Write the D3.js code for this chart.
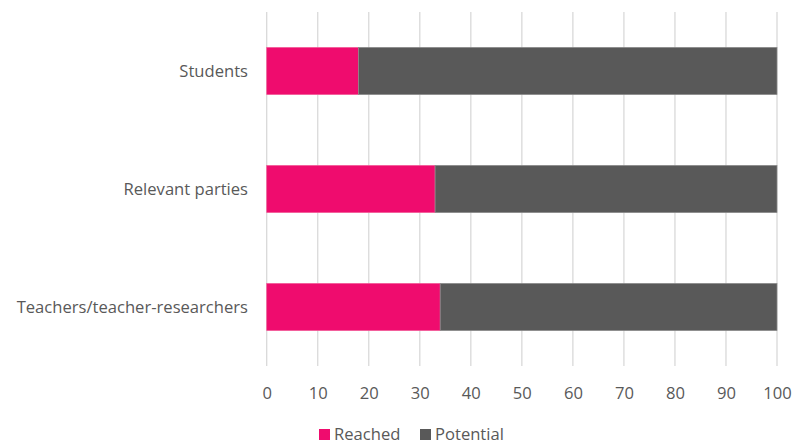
<!DOCTYPE html>
<html><head><meta charset="utf-8">
<script src="https://cdn.jsdelivr.net/npm/d3@7"></script>
<style>body{margin:0;background:#fff;} text{font-family:"Open Sans",sans-serif;}</style>
</head><body>
<svg id="c" width="804" height="441"></svg>
<script>
const categories = ["Students", "Relevant parties", "Teachers/teacher-researchers"];
const reached = [18, 33, 34];
const potential = [82, 67, 66];
const xTicks = [0,10,20,30,40,50,60,70,80,90,100];
const seriesNames = ["Reached", "Potential"];
const colors = ["#EF0C6E", "#595959"];

const svg = d3.select("#c");
const x = d3.scaleLinear().domain([0,100]).range([266.7, 777]);
const y = d3.scaleBand().domain(categories).range([12, 366]).paddingInner(0.6).paddingOuter(0.3);

// gridlines
svg.append("g").selectAll("line").data(xTicks).join("line")
  .attr("x1", d=>x(d)).attr("x2", d=>x(d)).attr("y1", 12).attr("y2", 366)
  .attr("stroke", "#d9d9d9").attr("stroke-width", 1.3);

const rows = categories.map((c,i)=>({c, r: reached[i], p: potential[i]}));
const g = svg.append("g");
g.selectAll("rect.r").data(rows).join("rect").attr("class","r")
  .attr("x", x(0)).attr("y", d=>y(d.c)).attr("width", d=>x(d.r)-x(0)).attr("height", y.bandwidth())
  .attr("fill", colors[0]).attr("stroke", "#f25c98").attr("stroke-width", 0.7);
g.selectAll("rect.p").data(rows).join("rect").attr("class","p")
  .attr("x", d=>x(d.r)).attr("y", d=>y(d.c)).attr("width", d=>x(d.r+d.p)-x(d.r)).attr("height", y.bandwidth())
  .attr("fill", colors[1]).attr("stroke", "#8c8c8c").attr("stroke-width", 0.7);

// category labels
svg.append("g").selectAll("text").data(categories).join("text")
  .attr("x", 248).attr("y", d=>y(d)+y.bandwidth()/2).attr("dy","0.35em")
  .attr("text-anchor","end").attr("font-size", 16.6).attr("fill","#595959").text(d=>d);

// x axis
const xa = svg.append("g").attr("transform","translate(0,366)")
  .call(d3.axisBottom(x).tickValues(xTicks).tickSize(0).tickPadding(21));
xa.select(".domain").remove();
xa.selectAll("text").attr("font-size",16.6).attr("fill","#595959").attr("font-family","Open Sans");

// legend
const leg = svg.append("g");
const lx = [319, 420];
seriesNames.forEach((n,i)=>{
  leg.append("rect").attr("x", lx[i]).attr("y", 429).attr("width",11).attr("height",11).attr("fill",colors[i]);
  leg.append("text").attr("x", lx[i]+15).attr("y", 434).attr("dy","0.35em")
    .attr("font-size",16.6).attr("fill","#595959").text(n);
});
</script>
</body></html>
